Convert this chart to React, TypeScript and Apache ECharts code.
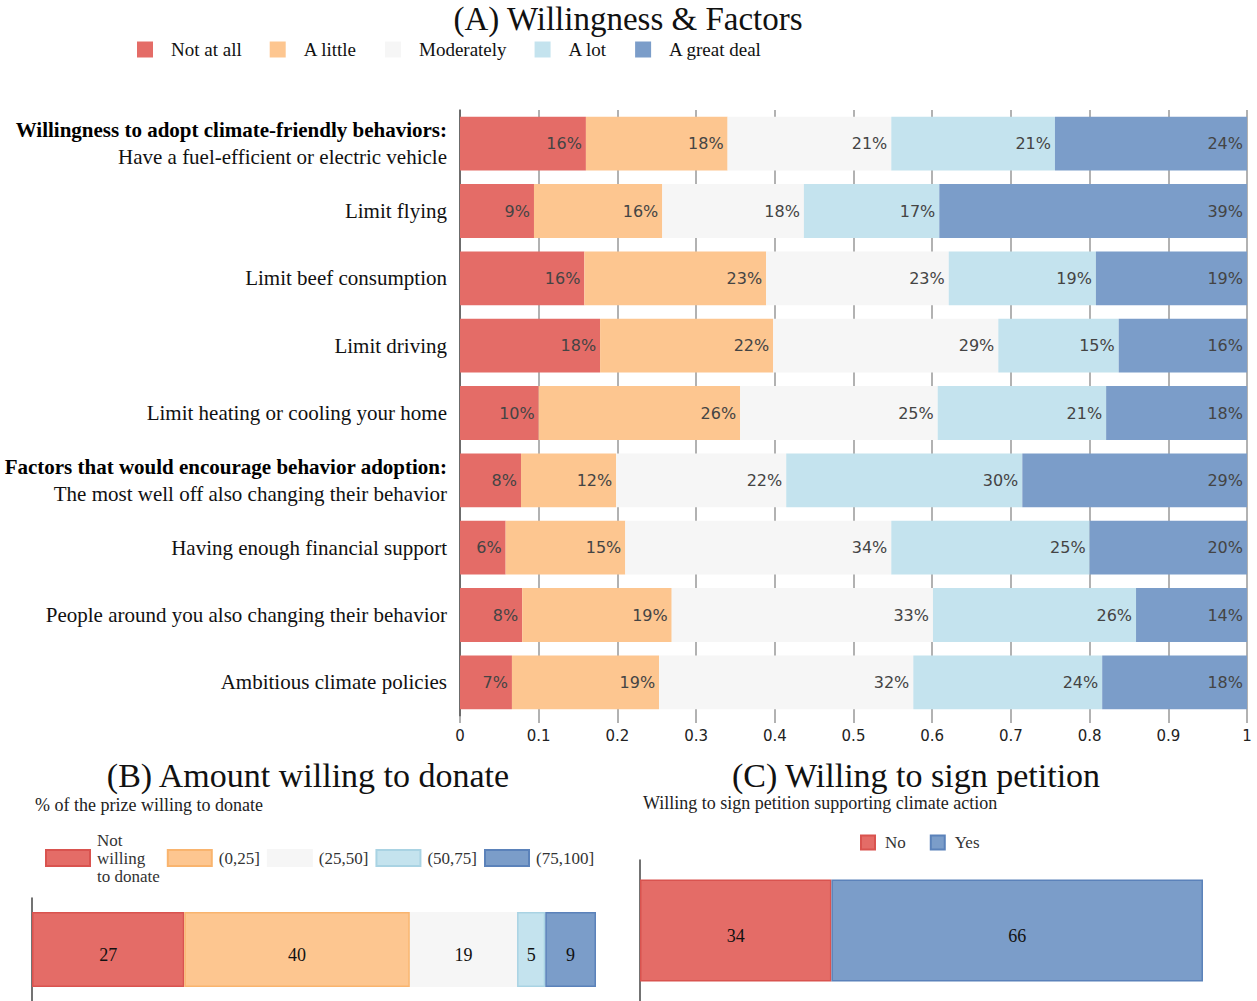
import React, { useEffect, useRef } from "react";
import * as echarts from "echarts";

// ---------- Panel A data ----------
const rowsA = [
  "Have a fuel-efficient or electric vehicle",
  "Limit flying",
  "Limit beef consumption",
  "Limit driving",
  "Limit heating or cooling your home",
  "The most well off also changing their behavior",
  "Having enough financial support",
  "People around you also changing their behavior",
  "Ambitious climate policies",
];
const headersA: Record<number, string> = {
  0: "Willingness to adopt climate-friendly behaviors:",
  5: "Factors that would encourage behavior adoption:",
};
const levelsA = ["Not at all", "A little", "Moderately", "A lot", "A great deal"];
const notAtAll = [0.16, 0.094, 0.158, 0.178, 0.1, 0.0775, 0.058, 0.079, 0.066];
const aLittle = [0.18, 0.163, 0.231, 0.22, 0.256, 0.121, 0.152, 0.19, 0.187];
const moderately = [0.208, 0.18, 0.232, 0.286, 0.251, 0.216, 0.338, 0.332, 0.323];
const aLot = [0.208, 0.172, 0.187, 0.153, 0.214, 0.3, 0.252, 0.258, 0.24];
const greatDeal = [0.244, 0.391, 0.192, 0.163, 0.179, 0.2855, 0.2, 0.141, 0.184];
const xTicksA = { min: 0, max: 1, interval: 0.1 };

// ---------- Panel B data ----------
const levelsB = ["Not willing to donate", "(0,25]", "(25,50]", "(50,75]", "(75,100]"];
const valuesB = [27, 40, 19, 5, 9];

// ---------- Panel C data ----------
const levelsC = ["No", "Yes"];
const valuesC = [34, 66];

const fill5 = ["#E46C67", "#FDC690", "#F6F6F6", "#C4E3EE", "#7B9DC9"];
const border5 = ["#D9534F", "#F9B46E", "#F6F6F6", "#A9D3E3", "#5B82BA"];

const SERIF = "Liberation Serif";
const SANS = "DejaVu Sans";

export default function App() {
  const ref = useRef<HTMLDivElement>(null);

  useEffect(() => {
    if (!ref.current) return;
    const chart = echarts.init(ref.current, undefined, { renderer: "svg" });
    const seriesA = [notAtAll, aLittle, moderately, aLot, greatDeal].map((arr, i) => ({
      name: levelsA[i],
      type: "bar",
      stack: "A",
      xAxisIndex: 0,
      yAxisIndex: 0,
      barWidth: "80%",
      data: arr,
      itemStyle: { color: fill5[i] },
      label: {
        show: true,
        position: "insideRight",
        distance: 4,
        color: "#444",
        fontFamily: SANS,
        fontSize: 16,
        formatter: (p: any) => Math.round(p.value * 100) + "%",
      },
    }));
    const seriesB = valuesB.map((v, i) => ({
      name: levelsB[i],
      type: "bar",
      stack: "B",
      xAxisIndex: 1,
      yAxisIndex: 1,
      barWidth: 75,
      data: [v],
      itemStyle: { color: fill5[i], borderColor: border5[i], borderWidth: 1.5 },
      label: { show: true, position: "inside", offset: [0, 5], color: "#111", fontFamily: SERIF, fontSize: 18 },
    }));
    const cIdx = [0, 4];
    const seriesC = valuesC.map((v, i) => ({
      name: levelsC[i],
      type: "bar",
      stack: "C",
      xAxisIndex: 2,
      yAxisIndex: 2,
      barWidth: 102,
      data: [v],
      itemStyle: { color: fill5[cIdx[i]], borderColor: border5[cIdx[i]], borderWidth: 1.5 },
      label: { show: true, position: "inside", offset: [0, 5], color: "#111", fontFamily: SERIF, fontSize: 18 },
    }));

    const textEl = (text: string, x: number, y: number, size: number) => ({
      type: "text",
      x,
      y,
      style: {
        text,
        fontSize: size,
        fontFamily: SERIF,
        fill: "#111",
        textAlign: "center",
        textVerticalAlign: "middle",
        align: "center",
        verticalAlign: "middle",
      },
    });
    const textLeft = (text: string, x: number, y: number, size: number) => ({
      type: "text",
      x,
      y,
      style: {
        text,
        fontSize: size,
        fontFamily: SERIF,
        fill: "#222",
        textAlign: "left",
        textVerticalAlign: "middle",
        align: "left",
        verticalAlign: "middle",
      },
    });

    chart.setOption({
      animation: false,
      backgroundColor: "#fff",
      graphic: [
        textEl("(A) Willingness & Factors", 628, 19, 33),
        textEl("(B) Amount willing to donate", 308, 775, 34),
        textEl("(C) Willing to sign petition", 916, 775, 34),
        textLeft("% of the prize willing to donate", 35, 805, 18),
        textLeft("Willing to sign petition supporting climate action", 643, 803, 18),
      ],
      legend: [
        {
          data: levelsA,
          left: 132,
          top: 35,
          itemWidth: 16,
          itemHeight: 16,
          itemGap: 28,
          icon: "rect",
          textStyle: { fontFamily: SERIF, fontSize: 19, color: "#111", padding: [0, 0, 0, 13] },
        },
        {
          data: levelsB,
          left: 40,
          top: 826,
          itemWidth: 44,
          itemHeight: 16,
          itemGap: 7,
          icon: "rect",
          formatter: (n: string) => (n === "Not willing to donate" ? "Not\nwilling\nto donate" : n),
          textStyle: { fontFamily: SERIF, fontSize: 17, lineHeight: 18, color: "#333", padding: [0, 0, 0, 2] },
        },
        {
          data: levelsC,
          left: 855,
          top: 829,
          itemWidth: 14,
          itemHeight: 14,
          itemGap: 24,
          icon: "rect",
          textStyle: { fontFamily: SERIF, fontSize: 17, color: "#333", padding: [0, 0, 0, 5] },
        },
      ],
      grid: [
        { left: 460, top: 110, width: 787, height: 606 },
        { left: 32, top: 898, width: 564, height: 103 },
        { left: 640, top: 860, width: 563, height: 141 },
      ],
      xAxis: [
        {
          type: "value",
          gridIndex: 0,
          min: xTicksA.min,
          max: xTicksA.max,
          interval: xTicksA.interval,
          axisLine: { show: false },
          axisTick: { show: true, length: 7, lineStyle: { color: "#999", width: 1.5 } },
          splitLine: { show: true, lineStyle: { color: "#999", width: 1.5 } },
          axisLabel: { color: "#222", fontFamily: SANS, fontSize: 15, margin: 12 },
        },
        { type: "value", gridIndex: 1, min: 0, max: 100, show: false },
        { type: "value", gridIndex: 2, min: 0, max: 100, show: false },
      ],
      yAxis: [
        {
          type: "category",
          gridIndex: 0,
          inverse: true,
          data: rowsA,
          axisLine: { show: true, lineStyle: { color: "#555", width: 1.5 } },
          axisTick: { show: false },
          axisLabel: {
            margin: 13,
            formatter: (v: string, i: number) =>
              headersA[i] !== undefined ? `{h|${headersA[i]}}\n{n|${v}}` : `{n|${v}}`,
            rich: {
              h: { fontFamily: SERIF, fontSize: 21, fontWeight: "bold", color: "#000", lineHeight: 27, align: "right" },
              n: { fontFamily: SERIF, fontSize: 21, color: "#111", lineHeight: 27, align: "right" },
            },
          },
        },
        {
          type: "category",
          gridIndex: 1,
          data: [""],
          axisLine: { show: true, lineStyle: { color: "#444", width: 1.5 } },
          axisTick: { show: false },
          axisLabel: { show: false },
        },
        {
          type: "category",
          gridIndex: 2,
          data: [""],
          axisLine: { show: true, lineStyle: { color: "#444", width: 1.5 } },
          axisTick: { show: false },
          axisLabel: { show: false },
        },
      ],
      series: [...seriesA, ...seriesB, ...seriesC],
    });
    return () => chart.dispose();
  }, []);

  return (
    <div
      ref={ref}
      style={{ position: "absolute", left: 0, top: 0, width: 1257, height: 1001 }}
    />
  );
}
